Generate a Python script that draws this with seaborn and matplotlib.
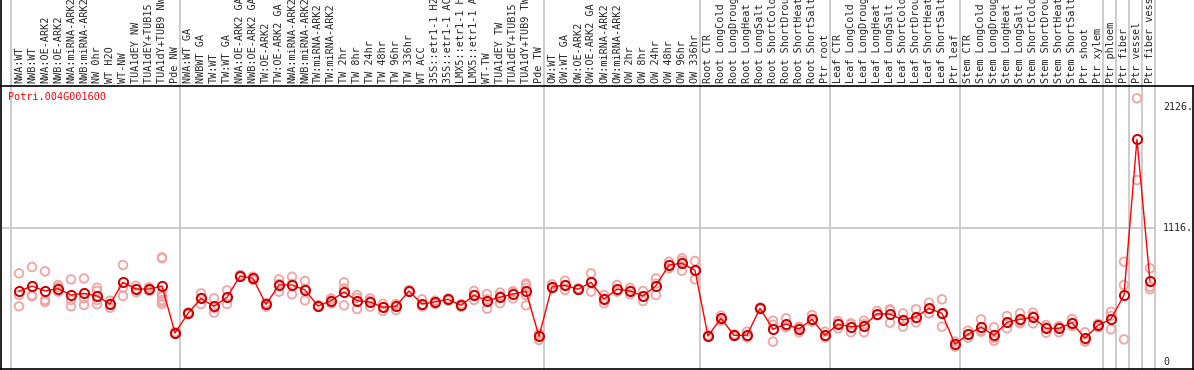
import matplotlib
matplotlib.use("Agg")
import matplotlib.pyplot as plt
import seaborn as sns
import pandas as pd

gene_id = "Potri.004G001600"

sample_labels = [
    "NWA:WT", "NWB:WT", "NWA:OE-ARK2", "NWB:OE-ARK2", "NWA:miRNA-ARK2",
    "NWB:miRNA-ARK2", "NW 0hr", "WT H2O", "WT-NW", "TUA1dEY NW",
    "TUA1dEY+TUB15 NW", "TUA1dY+TUB9 NW", "Pde NW",
    "NWA:WT GA", "NWBWT GA", "TW:WT", "TW:WT GA", "NWA:OE-ARK2 GA",
    "NWB:OE-ARK2 GA", "TW:OE-ARK2", "TW:OE-ARK2 GA", "NWA:miRNA-ARK2",
    "NWB:miRNA-ARK2", "TW:miRNA-ARK2", "TW:miRNA-ARK2", "TW 2hr", "TW 8hr",
    "TW 24hr", "TW 48hr", "TW 96hr", "TW 336hr", "WT ACC",
    "35S::etr1-1 H2O", "35S::etr1-1 ACC", "LMX5::etr1-1 H2O",
    "LMX5::etr1-1 ACC", "WT-TW", "TUA1dEY TW", "TUA1dEY+TUB15 TW",
    "TUA1dY+TUB9 TW", "Pde TW",
    "OW:WT", "OW:WT GA", "OW:OE-ARK2", "OW:OE-ARK2 GA", "OW:miRNA-ARK2",
    "OW:miRNA-ARK2", "OW 2hr", "OW 8hr", "OW 24hr", "OW 48hr", "OW 96hr",
    "OW 336hr",
    "Root CTR", "Root LongCold", "Root LongDrought", "Root LongHeat",
    "Root LongSalt", "Root ShortCold", "Root ShortDrought", "Root ShortHeat",
    "Root ShortSalt", "Ptr root",
    "Leaf CTR", "Leaf LongCold", "Leaf LongDrought", "Leaf LongHeat",
    "Leaf LongSalt", "Leaf ShortCold", "Leaf ShortDrought", "Leaf ShortHeat",
    "Leaf ShortSalt", "Ptr leaf",
    "Stem CTR", "Stem LongCold", "Stem LongDrought", "Stem LongHeat",
    "Stem LongSalt", "Stem ShortCold", "Stem ShortDrought", "Stem ShortHeat",
    "Stem ShortSalt", "Ptr shoot", "Ptr xylem", "Ptr phloem", "Ptr fiber",
    "Ptr vessel", "Ptr fiber vessel",
]

mean_values = [
    590, 634, 593, 612, 559, 573, 551, 484, 665, 609, 609, 634, 242,
    406, 531, 465, 540, 718, 698, 481, 643, 643, 601, 467, 512, 584, 512,
    501, 457, 465, 593, 484, 501, 523, 473, 557, 512, 540, 568, 590, 214,
    629, 640, 607, 665, 526, 607, 593, 551, 637, 810, 824, 765,
    217, 365, 223, 223, 448, 275, 317, 275, 356, 223,
    315, 295, 303, 403, 400, 351, 378, 448, 406, 148,
    231, 290, 223, 331, 356, 373, 281, 281, 328, 198, 306, 359, 557,
    1859, 674,
]

replicate_values = [
    [740, 559, 465], [793, 557, 548], [757, 518, 501], [643, 624, 587],
    [690, 518, 465], [698, 531, 476], [620, 593, 518, 482], [512, 453, 487],
    [810, 624, 551], [637, 582, 609], [624, 593, 609],
    [874, 866, 573, 545, 518, 503, 484], [242, 234, 250],
    [406, 398, 414], [573, 484, 536], [531, 412, 452], [598, 484, 538],
    [726, 712, 716], [698, 684, 712], [490, 462, 491], [690, 587, 652],
    [712, 565, 652], [676, 515, 612], [475, 460, 467], [531, 490, 515],
    [665, 473, 614], [559, 442, 535], [531, 462, 510], [459, 426, 486],
    [484, 434, 477], [600, 586, 593], [523, 465, 464], [512, 484, 507],
    [531, 512, 526], [484, 462, 473], [593, 518, 560], [568, 445, 523],
    [579, 490, 551], [582, 531, 591], [656, 643, 559, 473, 619],
    [223, 184, 235],
    [648, 615, 624], [679, 601, 640], [615, 601, 605], [740, 587, 668],
    [559, 490, 529], [643, 587, 591], [620, 565, 594], [593, 509, 551],
    [698, 559, 654], [837, 810, 783], [866, 762, 844], [843, 690, 762],
    [210, 224, 217], [387, 365, 343], [223, 215, 231], [253, 211, 205],
    [441, 455, 448], [345, 170, 310], [365, 290, 296], [295, 248, 282],
    [392, 337, 339], [253, 211, 205],
    [342, 281, 322], [323, 248, 314], [345, 248, 316], [426, 392, 391],
    [440, 328, 432], [406, 295, 352], [440, 331, 363], [495, 406, 443],
    [523, 295, 400], [170, 128, 146],
    [261, 203, 229], [356, 253, 261], [290, 178, 201], [384, 281, 328],
    [406, 323, 339], [412, 323, 384], [309, 245, 289], [295, 248, 300],
    [359, 301, 324], [248, 170, 176], [309, 290, 319], [420, 273, 384],
    [837, 643, 189], [2201, 1519], [782, 629, 607],
]

# last sample index of each group (-1 = left edge)
group_ends = [-1, 12, 40, 52, 62, 72, 83, 84, 85, 86, 87]

y_tick_values = [2126, 1116, 0]
y_tick_labels = ["2126.", "1116.", "0"]
grid_value = 1116

sns.set_style("white")
plt.rcParams["font.family"] = ["DejaVu Sans Mono", "DejaVu Sans"]

mean_df = pd.DataFrame({"idx": range(len(mean_values)), "value": mean_values})
rep_df = pd.DataFrame(
    [(i, v) for i, reps in enumerate(replicate_values) for v in reps],
    columns=["idx", "value"],
)

fig = plt.figure(figsize=(11.94, 3.70), dpi=100)
ax = fig.add_axes([1 / 1194, 1 / 370, 1192 / 1194, 283 / 370])

x_left, x_right = -1.385, 90.31
ax.set_xlim(x_left, x_right)
ax.set_ylim(-58.4, 2303.8)

# group separators, running up through the label band
for g in group_ends:
    ax.axvline(g + 0.4, ymin=0, ymax=369 / 283, color="#c8c8c8", lw=1.3,
               clip_on=False, zorder=0)
ax.hlines(grid_value, x_left, group_ends[-1] + 0.4, color="#c8c8c8", lw=1.3,
          zorder=0)
ax.axvline(x_left, ymin=1, ymax=370 / 283, color="black", lw=1.2,
           clip_on=False)

# replicate measurements
sns.scatterplot(data=rep_df, x="idx", y="value", color="#f2a4a4", s=38,
                ax=ax, zorder=2, legend=False)
pts = ax.collections[-1]
pts.set_facecolor("none")
pts.set_edgecolor("#f2a4a4")
pts.set_linewidth(1.3)

# mean expression
sns.lineplot(data=mean_df, x="idx", y="value", color="#ff0000", lw=1,
             marker="o", markersize=6.6, markerfacecolor="none",
             markeredgecolor="#c80000", markeredgewidth=1.4, ax=ax, zorder=3)

for spine in ax.spines.values():
    spine.set_color("black")
    spine.set_linewidth(1.2)
ax.set_xticks([])
ax.set_yticks([])
ax.set_xlabel("")
ax.set_ylabel("")

# sample names in the top band (cut off at the top edge, as in the source)
for i, lab in enumerate(sample_labels):
    ax.text(i, 1 + 3 / 283, lab, transform=ax.get_xaxis_transform(),
            rotation=90, ha="center", va="bottom", fontsize=7.3,
            clip_on=False)

ax.text(-0.85, 2212, gene_id, color="#ff0000", fontsize=7.3, ha="left",
        va="center")

for v, lab in zip(y_tick_values, y_tick_labels):
    ax.text(88.0, v, lab, fontsize=7.2, ha="left", va="center")

fig.savefig("out.png", dpi=100)
